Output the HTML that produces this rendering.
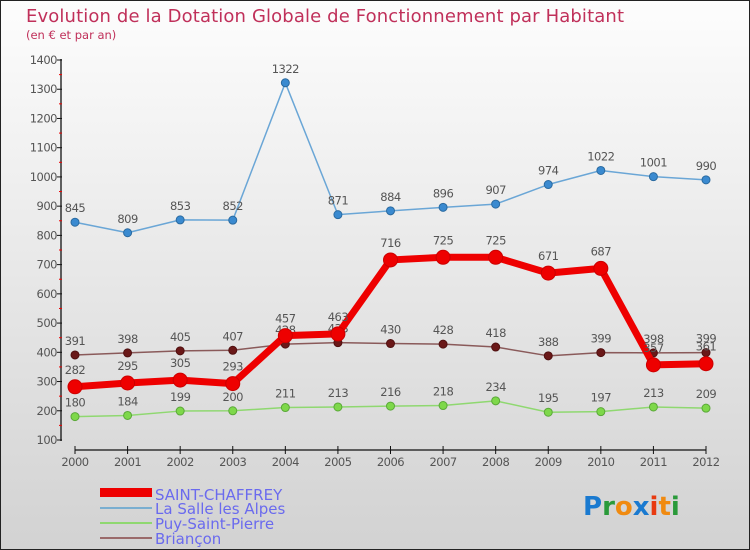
<!DOCTYPE html>
<html><head><meta charset="utf-8"><style>
body{margin:0;}
svg{display:block;font-family:"DejaVu Sans","Liberation Sans",sans-serif;}
</style></head><body>
<svg id="c" width="750" height="550" xmlns="http://www.w3.org/2000/svg">
<defs><linearGradient id="bg" x1="0" y1="0" x2="0" y2="1"><stop offset="0" stop-color="#fdfdfd"/><stop offset="1" stop-color="#d2d2d2"/></linearGradient></defs>
<rect x="0.5" y="0.5" width="749" height="549" fill="url(#bg)" stroke="#222"/>
<text x="26" y="22" font-size="18" fill="#c0305a" textLength="598">Evolution de la Dotation Globale de Fonctionnement par Habitant</text>
<text x="26" y="39" font-size="11.5" fill="#c0305a">(en € et par an)</text>
<g id="axes"></g><g id="series"></g>
<g>
<rect x="100" y="488" width="52" height="9" fill="#ee0000"/>
<text x="155" y="500" font-size="15" fill="#6a6aee">SAINT-CHAFFREY</text>
<rect x="100" y="507" width="52" height="2" fill="#7aaed0"/>
<text x="155" y="514" font-size="15" fill="#6a6aee">La Salle les Alpes</text>
<rect x="100" y="522" width="52" height="2" fill="#8fd870"/>
<text x="155" y="529" font-size="15" fill="#6a6aee">Puy-Saint-Pierre</text>
<rect x="100" y="537" width="52" height="2" fill="#9a6a6a"/>
<text x="155" y="544" font-size="15" fill="#6a6aee">Briançon</text>
</g>
<g font-size="26" font-weight="bold">
<text x="583" y="515"><tspan fill="#1a7ad0">P</tspan><tspan fill="#2a9a3a">r</tspan><tspan fill="#f08a10">o</tspan><tspan fill="#1a7ad0">x</tspan><tspan fill="#e83a10">i</tspan><tspan fill="#f08a10">t</tspan><tspan fill="#2a9a3a">i</tspan></text>
</g>
</svg>
<script>
const years=[2000,2001,2002,2003,2004,2005,2006,2007,2008,2009,2010,2011,2012];
const saint=[282,295,305,293,457,463,716,725,725,671,687,357,361];
const salle=[845,809,853,852,1322,871,884,896,907,974,1022,1001,990];
const puy=[180,184,199,200,211,213,216,218,234,195,197,213,209];
const brian=[391,398,405,407,428,433,430,428,418,388,399,398,399];
const yTicks=[100,200,300,400,500,600,700,800,900,1000,1100,1200,1300,1400];
const NS="http://www.w3.org/2000/svg";
const X=i=>75+i*(706-75)/12;
const Y=v=>440-(v-100)*(380/1300);
function mk(t,a,p){const e=document.createElementNS(NS,t);for(const k in a)e.setAttribute(k,a[k]);p.appendChild(e);return e;}
const ax=document.getElementById('axes');
mk('line',{x1:61,y1:59,x2:61,y2:441,stroke:'#111','stroke-width':1.3},ax);
mk('line',{x1:75,y1:450,x2:706,y2:450,stroke:'#111','stroke-width':1.3},ax);
yTicks.forEach((v,i)=>{
  mk('line',{x1:57,y1:Y(v),x2:62,y2:Y(v),stroke:'#111'},ax);
  if(i<yTicks.length-1)mk('line',{x1:59,y1:Y(v+50),x2:62,y2:Y(v+50),stroke:'#e00'},ax);
  const t=mk('text',{x:57,y:Y(v)+4,'text-anchor':'end','font-size':11.5,fill:'#555','letter-spacing':'-0.5'},ax);
  t.textContent=v;
  
  
});
years.forEach((y,i)=>{
  mk('line',{x1:X(i),y1:446,x2:X(i),y2:454,stroke:'#111'},ax);
  const t=mk('text',{x:X(i),y:466,'text-anchor':'middle','font-size':11.5,fill:'#555','letter-spacing':'-0.5'},ax);
  t.textContent=y;
  
  
});
const sg=document.getElementById('series');
function draw(vals,name,color,w,r,dot,dotStroke){
  const g=mk('g',{},sg);
  
  
  const pl=mk('polyline',{points:vals.map((v,i)=>X(i)+','+Y(v)).join(' '),fill:'none',stroke:color,'stroke-width':w,'stroke-linejoin':'round'},g);
  
  
  vals.forEach((v,i)=>{
    const c=mk('circle',{cx:X(i),cy:Y(v),r:r,fill:dot,stroke:dotStroke,'stroke-width':1},g);
    
    
    const t=mk('text',{x:X(i),y:Y(v)-(r+6),'text-anchor':'middle','font-size':11.5,fill:'#555','letter-spacing':'-0.5'},g);
    t.textContent=v;
    
    
  });
}
draw(puy,'puy-saint-pierre','#8fd870',1.5,4,'#7ed84a','#5aa838');
draw(brian,'briancon','#8a5a5a',1.5,4,'#6a1818','#501010');
draw(salle,'la-salle','#6aa6d6',1.5,4,'#3a8ad0','#2a6aa0');
draw(saint,'saint-chaffrey','#ee0000',7,7,'#ee0000','#cc0000');
</script>
</body></html>
